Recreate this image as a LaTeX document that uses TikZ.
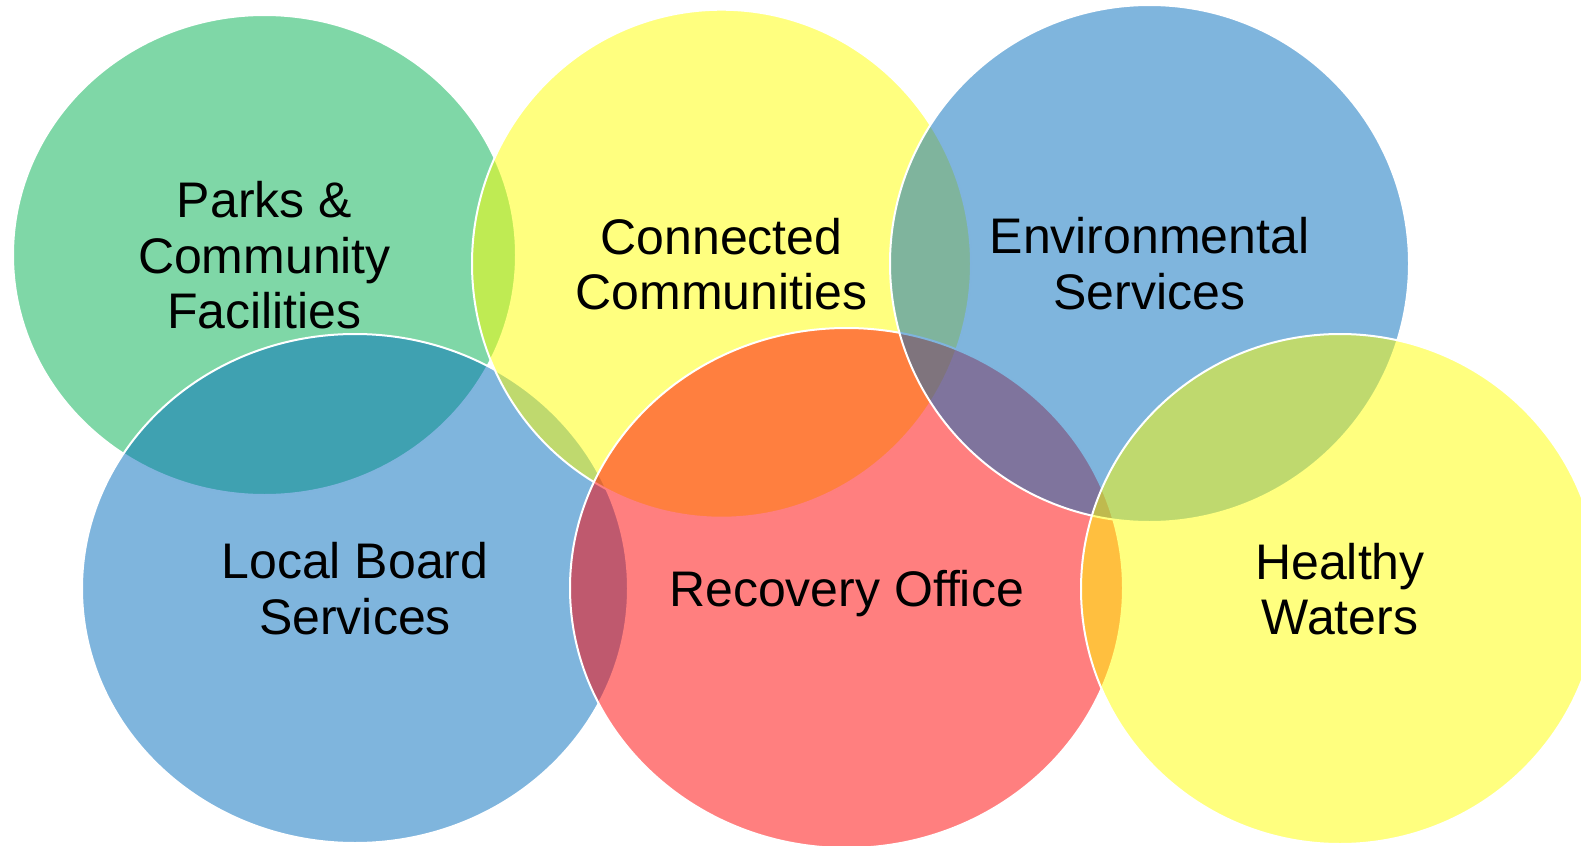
\documentclass[tikz,border=0pt]{standalone}
\usepackage{fontspec}
\setmainfont{Liberation Sans}
\usepackage{tikz}
\usetikzlibrary{shapes.geometric}
\definecolor{parksgreen}{RGB}{0,176,80}
\definecolor{areablue}{RGB}{0,107,188}
\definecolor{areayellow}{RGB}{255,255,0}
\definecolor{areared}{RGB}{255,0,0}
\tikzset{
    area/.style = {
        draw=white,
        shape=ellipse,
        inner sep=0pt,
        line width=1pt,
        fill opacity=0.5,
        text opacity=1,
        align=center,
        text depth=0pt,
        font=\fontsize{25pt}{27.75pt}\selectfont
    },
}

\begin{document}
\begin{tikzpicture}[x=0.5pt, y=-0.5pt]
                \useasboundingbox (0,0) rectangle (1581,846);

                \node[area, fill=parksgreen, minimum width=251.5pt, minimum height=240pt]
                (parks) at (264.5,255) {Parks \&\\Community\\Facilities};
                \node[area, fill=areablue, minimum width=273pt, minimum height=254.5pt]
                (local) at (355,588.5) {Local Board\\Services};
                \node[area, fill=areayellow, minimum width=249.5pt, minimum height=254pt]
                (conn) at (721.5,263.7) {Connected\\Communities};
                \node[area, fill=areared, minimum width=276.5pt, minimum height=260pt]
                (recov) at (846.5,588) {Recovery Office};
                \node[area, fill=areablue, minimum width=259.5pt, minimum height=258.5pt]
                (env) at (1149.5,263.5) {Environmental\\Services};
                \node[area, fill=areayellow, minimum width=259pt, minimum height=255pt]
                (water) at (1340,589) {Healthy\\Waters};
            \end{tikzpicture}
\end{document}
